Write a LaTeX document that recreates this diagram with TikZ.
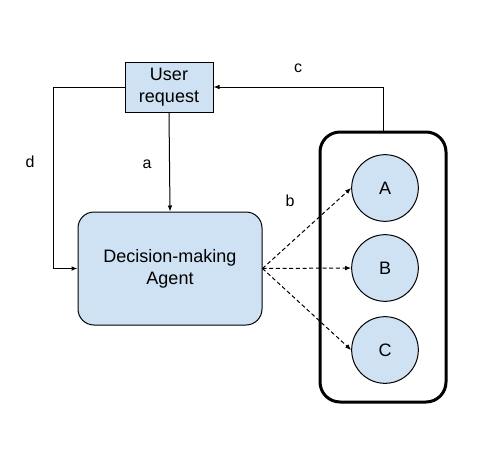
\documentclass[tikz,border=0pt]{standalone}
\usepackage{fontspec}
\setmainfont{Liberation Sans}
\usetikzlibrary{arrows.meta}
\definecolor{boxblue}{HTML}{CFE2F3}
\begin{document}
\begin{tikzpicture}[x=0.75pt,y=-0.75pt,
  conn/.style={draw=black,line width=0.75pt,-{Latex[length=4.5pt,width=3.5pt]}},
  dconn/.style={conn,dash pattern=on 3pt off 2pt},
  lbl/.style={font=\fontsize{12pt}{14pt}\selectfont,inner sep=0pt},
  txt/.style={font=\fontsize{13.5pt}{16.5pt}\selectfont,align=center}]
\useasboundingbox (0,0) rectangle (500,450);
\node[draw,line width=0.75pt,fill=boxblue,minimum width=66pt,minimum height=37.5pt,inner sep=0pt,txt] (user) at (169,87) {User\\request};
\node[draw,line width=0.75pt,fill=boxblue,rounded corners=12pt,minimum width=138pt,minimum height=84.75pt,inner sep=0pt,txt] (agent) at (170,268.5) {Decision-making\\Agent};
\node[draw,line width=2.25pt,rounded corners=15pt,minimum width=94.5pt,minimum height=202.5pt,inner sep=0pt] (cont) at (383,267) {};
\node[draw,line width=0.75pt,fill=boxblue,circle,minimum size=50pt,inner sep=0pt,txt] (A) at (385,188) {A};
\node[draw,line width=0.75pt,fill=boxblue,circle,minimum size=50pt,inner sep=0pt,txt] (B) at (385,268) {B};
\node[draw,line width=0.75pt,fill=boxblue,circle,minimum size=50pt,inner sep=0pt,txt] (C) at (385,350) {C};
\coordinate (dl) at (53,0);
\coordinate (cr) at (383,0);
\draw[conn] (user.south) -- (agent.north);
\draw[conn] (user.west) -- (dl |- user.west) -- (dl |- agent.west) -- (agent.west);
\draw[conn] (cont.north -| cr) -- (cr |- user.east) -- (user.east);
\draw[dconn] (agent.east) -- (A.west);
\draw[dconn] (agent.east) -- (B.west);
\draw[dconn] (agent.east) -- (C.west);
\node[lbl] (la) at (147,164) {a};
\node[lbl] (lb) at (290,201) {b};
\node[lbl] (lc) at (298,68) {c};
\node[lbl] (ld) at (30,162) {d};
\end{tikzpicture}
\end{document}
